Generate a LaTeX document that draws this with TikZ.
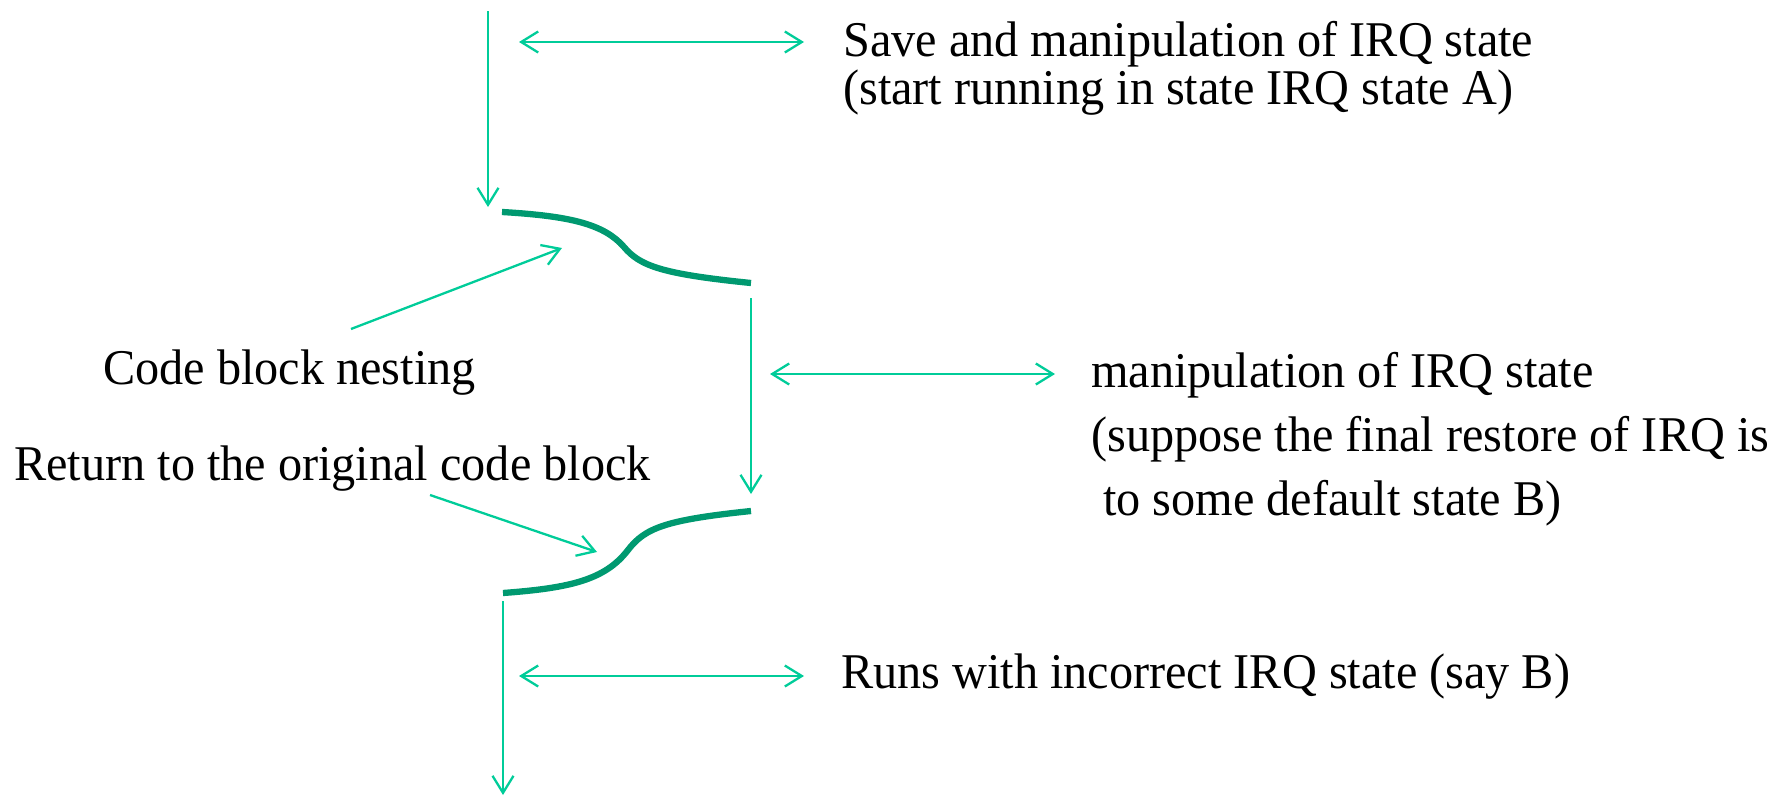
\documentclass[tikz,border=0pt]{standalone}
\usepackage{fontspec}
\setmainfont{Liberation Serif}[FakeStretch=0.965]
\usetikzlibrary{arrows.meta}
\definecolor{lightgr}{RGB}{0,204,153}
\definecolor{darkgr}{RGB}{0,153,112}
\begin{document}
\begin{tikzpicture}[x=1pt,y=-1pt,
  thin arrow/.style={draw=lightgr,line width=2.3pt,-{Straight Barb[length=17pt,width=21pt,line width=2.3pt]}},
  both arrow/.style={draw=lightgr,line width=2.3pt,{Straight Barb[length=17pt,width=21pt,line width=2.3pt]}-{Straight Barb[length=17pt,width=21pt,line width=2.3pt]}},
  block curve/.style={draw=darkgr,line width=6.3pt},
  label text/.style={inner sep=0pt,anchor=base west,align=left,font=\fontsize{50}{64}\selectfont}]
\useasboundingbox (0,0) rectangle (1771,795);
% coordinates
\coordinate (t1) at (488,11);
\coordinate (t2) at (488,207);
\coordinate (m1) at (751,298);
\coordinate (m2) at (751,494);
\coordinate (b1) at (503,601);
\coordinate (b2) at (503,795);
\coordinate (d1a) at (519,42);
\coordinate (d1b) at (804,42);
\coordinate (d2a) at (770,374);
\coordinate (d2b) at (1055,374);
\coordinate (d3a) at (519,676);
\coordinate (d3b) at (804,676);
\coordinate (u1) at (502,212);
\coordinate (u2) at (624,247);
\coordinate (u3) at (751,283);
\coordinate (l1) at (503,593);
\coordinate (l2) at (628,550);
\coordinate (l3) at (751,511);
\coordinate (p1a) at (351,329);
\coordinate (p1b) at (562,248);
\coordinate (p2a) at (430,495);
\coordinate (p2b) at (597,552);
% texts (anchor = baseline of the last line)
\node[label text,font=\fontsize{50}{48}\selectfont] (save) at (843,104) {Save and manipulation of IRQ state\\(start running in state IRQ state A)};
\node[label text] (nest) at (103,384) {Code block nesting};
\node[label text] (ret) at (14,480) {Return to the original code block};
\node[label text] (manip) at (1091,515) {manipulation of IRQ state\\(suppose the final restore of IRQ is\\\ to some default state B)};
\node[label text] (runs) at (841,688) {Runs with incorrect IRQ state (say B)};
% block curves
\draw[block curve] (u1) .. controls (570,216) and (604,224) .. (u2)
  .. controls (640,266) and (662,274) .. (u3);
\draw[block curve] (l1) .. controls (570,588) and (605,580) .. (l2)
  .. controls (645,528) and (665,520) .. (l3);
% arrows
\draw[thin arrow] (t1) -- (t2);
\draw[thin arrow] (m1) -- (m2);
\draw[thin arrow] (b1) -- (b2);
\draw[both arrow] (d1a) -- (d1b);
\draw[both arrow] (d2a) -- (d2b);
\draw[both arrow] (d3a) -- (d3b);
\draw[thin arrow] (p1a) -- (p1b);
\draw[thin arrow] (p2a) -- (p2b);
\end{tikzpicture}
\end{document}
